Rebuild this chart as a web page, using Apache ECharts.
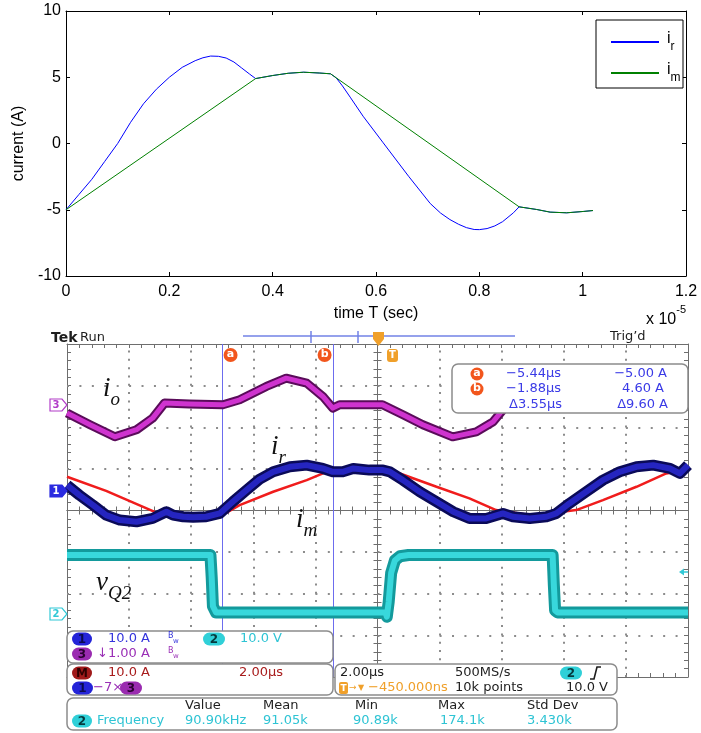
<!DOCTYPE html>
<html><head><meta charset="utf-8">
<script src="https://cdn.jsdelivr.net/npm/echarts@6/dist/echarts.min.js"></script>
<style>html,body{margin:0;padding:0;background:#fff}#c{width:701px;height:733px}</style>
</head><body><div id="c"></div>
<script>
// ---------- Top chart data (time in units of 1e-5 s, current in A) ----------
const irTime    = [0, 0.025, 0.05, 0.075, 0.1, 0.125, 0.15, 0.175, 0.2, 0.225, 0.25, 0.265, 0.28, 0.295, 0.31, 0.325, 0.34, 0.355, 0.367, 0.4, 0.43, 0.46, 0.49, 0.512, 0.523, 0.535, 0.55, 0.575, 0.614, 0.663, 0.705, 0.725, 0.743, 0.76, 0.775, 0.79, 0.80, 0.815, 0.83, 0.845, 0.866, 0.877, 0.911, 0.937, 0.969, 1.001, 1.02];
const irCurrent = [-5.0, -3.85, -2.7, -1.35, 0.0, 1.6, 3.0, 4.1, 5.0, 5.75, 6.25, 6.47, 6.6, 6.58, 6.45, 6.15, 5.7, 5.25, 4.9, 5.13, 5.3, 5.38, 5.32, 5.26, 4.95, 4.35, 3.5, 2.06, 0.05, -2.47, -4.53, -5.25, -5.74, -6.1, -6.35, -6.49, -6.5, -6.42, -6.22, -5.9, -5.23, -4.78, -4.98, -5.18, -5.23, -5.13, -5.06];
const imTime    = [0, 0.367, 0.4, 0.43, 0.46, 0.49, 0.512, 0.877, 0.911, 0.937, 0.969, 1.001, 1.02];
const imCurrent = [-5.0, 4.9, 5.13, 5.3, 5.38, 5.32, 5.26, -4.78, -4.98, -5.18, -5.23, -5.13, -5.06];

// ---------- Oscilloscope data (screen divisions: x -5..5, y -4..4) ----------
const ch1X = [-5.0,-4.80,-4.58,-4.37,-4.15,-3.88,-3.62,-3.40,-3.29,-3.13,-2.97,-2.76,-2.54,-2.33,-2.11,-1.90,-1.68,-1.41,-1.14,-0.88,-0.72,-0.56,-0.39,-0.13,0.09,0.20,0.41,0.68,0.95,1.22,1.48,1.75,2.02,2.18,2.45,2.72,2.88,3.09,3.36,3.63,3.90,4.17,4.44,4.71,4.87,5.0];
const ch1Y = [0.61,0.37,0.13,-0.11,-0.23,-0.27,-0.19,-0.03,-0.11,-0.15,-0.16,-0.15,-0.07,0.21,0.49,0.75,0.93,1.05,1.09,1.01,0.93,0.93,1.01,0.97,0.97,0.93,0.73,0.45,0.21,-0.03,-0.19,-0.19,-0.07,-0.15,-0.19,-0.15,-0.07,0.17,0.45,0.73,0.93,1.05,1.09,1.01,0.89,1.09];
const mathX = [-5.0,-4.37,-3.56,-3.0,-2.43,-2.22,-1.68,-1.14,-0.82,-0.5,0.0,0.36,0.95,1.48,1.91,2.5,3.2,3.63,4.17,4.65,5.0];
const mathY = [0.81,0.47,-0.05,-0.12,-0.05,0.13,0.45,0.73,0.93,0.95,0.98,0.89,0.57,0.29,0.01,-0.12,0.01,0.25,0.57,0.89,0.98];
const ch3X = [-5.0,-4.63,-4.23,-3.88,-3.62,-3.43,-3.03,-2.49,-2.22,-1.79,-1.47,-1.14,-0.88,-0.72,-0.61,-0.13,0.08,0.41,0.73,1.21,1.59,1.86,2.02,2.15,2.6,3.05,3.36,3.79,4.11,4.44,4.70,4.86,4.97,5.0];
const ch3Y = [2.34,2.06,1.77,1.94,2.22,2.58,2.56,2.54,2.66,2.98,3.18,3.06,2.74,2.46,2.54,2.54,2.54,2.30,2.06,1.77,1.89,2.13,2.42,2.58,2.55,2.54,2.66,2.98,3.18,3.06,2.74,2.46,2.54,2.54];
const ch2X = [-5.0,-2.69,-2.67,-2.65,-2.6,0.13,0.15,0.18,0.22,0.28,0.36,0.5,2.82,2.84,2.86,2.9,5.0];
const ch2Y = [-1.07,-1.07,-1.6,-2.3,-2.45,-2.45,-2.55,-2.2,-1.5,-1.2,-1.1,-1.07,-1.07,-1.8,-2.4,-2.45,-2.45];
const cursorTimesUs = [-5.44, -1.88];
const timePerDivUs = 2.0;
const screenCenterUs = -0.45;
const graticuleX = [-4, -3, -2, -1, 1, 2, 3, 4];
const graticuleY = [-3, -2, -1, 1, 2, 3];

const pairs = (xs, ys) => xs.map((x, i) => [x, ys[i]]);
const cursorDiv = cursorTimesUs.map(t => (t - screenCenterUs) / timePerDivUs);

const chart = echarts.init(document.getElementById('c'), null, {renderer: 'canvas'});
const SANS = 'Liberation Sans';
const UI = 'DejaVu Sans';
const frameC = '#6e6e6e', dotC = '#8c8c8c';

function scopeX(extra) {
  return Object.assign({
    gridIndex: 1, type: 'value', min: -5, max: 5, interval: 1,
    axisLabel: {show: false}, splitLine: {show: false},
    axisLine: {show: true, onZero: false, lineStyle: {color: frameC, width: 1}},
    axisTick: {show: true, inside: true, length: 4, lineStyle: {color: frameC}},
    minorTick: {show: true, splitNumber: 5, length: 4, lineStyle: {color: frameC}}
  }, extra);
}
function scopeY(extra) {
  return Object.assign({
    gridIndex: 1, type: 'value', min: -4, max: 4, interval: 1,
    axisLabel: {show: false}, splitLine: {show: false},
    axisLine: {show: true, onZero: false, lineStyle: {color: frameC, width: 1}},
    axisTick: {show: true, inside: true, length: 4, lineStyle: {color: frameC}},
    minorTick: {show: true, splitNumber: 5, length: 4, lineStyle: {color: frameC}}
  }, extra);
}
const topAxisLine = {onZero: false, lineStyle: {color: '#000', width: 1}};
const topTick = {inside: true, length: 4, lineStyle: {color: '#000'}};

const option = {
  animation: false,
  backgroundColor: '#fff',
  grid: [
    {left: 66, top: 11, width: 620, height: 265, outerBoundsMode: 'none', containLabel: false},
    {left: 67, top: 344, width: 621, height: 333, outerBoundsMode: 'none', containLabel: false}
  ],
  legend: {
    orient: 'vertical', left: 606, top: 26, itemWidth: 48, itemHeight: 2, itemGap: 9,
    icon: 'rect', selectedMode: false, data: ['ir', 'im'],
    formatter: n => n === 'ir' ? '{m|i}{s|r}' : '{m|i}{s|m}',
    textStyle: {rich: {
      m: {fontSize: 16, fontFamily: SANS, color: '#000', lineHeight: 22, verticalAlign: 'top', padding: [0, 0, 0, 3]},
      s: {fontSize: 12, fontFamily: SANS, color: '#000', lineHeight: 10, verticalAlign: 'bottom'}
    }}
  },
  xAxis: [
    {gridIndex: 0, type: 'value', min: 0, max: 1.2, interval: 0.2, position: 'bottom',
     axisLine: topAxisLine, axisTick: topTick, splitLine: {show: false},
     axisLabel: {color: '#000', fontSize: 16, fontFamily: SANS, margin: 8},
     name: 'time T (sec)', nameLocation: 'middle', nameGap: 30,
     nameTextStyle: {color: '#000', fontSize: 16, fontFamily: SANS}},
    {gridIndex: 0, type: 'value', min: 0, max: 1.2, interval: 0.2, position: 'top',
     axisLine: topAxisLine, axisTick: topTick, splitLine: {show: false}, axisLabel: {show: false}},
    scopeX({position: 'bottom'}),
    scopeX({position: 'top'}),
    scopeX({position: 'bottom', axisLine: {show: true, onZero: true, onZeroAxisIndex: 2, lineStyle: {color: frameC, width: 1}}}),
    scopeX({position: 'top', axisLine: {show: true, onZero: true, onZeroAxisIndex: 2, lineStyle: {color: frameC, width: 1}}})
  ],
  yAxis: [
    {gridIndex: 0, type: 'value', min: -10, max: 10, interval: 5, position: 'left',
     axisLine: topAxisLine, axisTick: topTick, splitLine: {show: false},
     axisLabel: {color: '#000', fontSize: 16, fontFamily: SANS, margin: 5},
     name: 'current (A)', nameLocation: 'middle', nameGap: 38, nameRotate: 90,
     nameTextStyle: {color: '#000', fontSize: 16, fontFamily: SANS}},
    {gridIndex: 0, type: 'value', min: -10, max: 10, interval: 5, position: 'right',
     axisLine: topAxisLine, axisTick: topTick, splitLine: {show: false}, axisLabel: {show: false}},
    scopeY({position: 'left'}),
    scopeY({position: 'right'}),
    scopeY({position: 'left', axisLine: {show: true, onZero: true, onZeroAxisIndex: 2, lineStyle: {color: frameC, width: 1}}}),
    scopeY({position: 'right', axisLine: {show: true, onZero: true, onZeroAxisIndex: 2, lineStyle: {color: frameC, width: 1}}})
  ],
  series: [
    {name: 'ir', type: 'line', xAxisIndex: 0, yAxisIndex: 0, data: pairs(irTime, irCurrent),
     symbol: 'none', lineStyle: {color: '#0000ff', width: 1}, itemStyle: {color: '#0000ff'}},
    {name: 'im', type: 'line', xAxisIndex: 0, yAxisIndex: 0, data: pairs(imTime, imCurrent),
     symbol: 'none', lineStyle: {color: '#008000', width: 1}, itemStyle: {color: '#008000'}},
    // graticule (dotted division lines)
    {name: 'graticule', type: 'line', xAxisIndex: 2, yAxisIndex: 2, data: [], symbol: 'none', z: 1, silent: true,
     markLine: {z: 1, silent: true, symbol: ['none', 'none'], label: {show: false}, animation: false,
       data: graticuleX.map(v => ({xAxis: v, lineStyle: {color: dotC, width: 2, type: [2, 6.32], opacity: 1}}))
         .concat(graticuleY.map(v => ({yAxis: v, lineStyle: {color: dotC, width: 2, type: [2, 10.42], opacity: 1}})))}},
    {name: 'math', type: 'line', xAxisIndex: 2, yAxisIndex: 2, data: pairs(mathX, mathY), symbol: 'none',
     lineStyle: {color: '#f01c1c', width: 2.5},
     markLine: {z: 1, silent: true, symbol: ['none', 'none'], label: {show: false},
       lineStyle: {color: '#6c6cee', width: 1, type: 'solid', opacity: 1},
       data: cursorDiv.map(v => ({xAxis: v}))}},
    {name: 'ch1o', type: 'line', xAxisIndex: 2, yAxisIndex: 2, data: pairs(ch1X, ch1Y), symbol: 'none',
     lineStyle: {color: '#0a0a58', width: 11, cap: 'butt', join: 'round'}},
    {name: 'ch1', type: 'line', xAxisIndex: 2, yAxisIndex: 2, data: pairs(ch1X, ch1Y), symbol: 'none',
     lineStyle: {color: '#2525c0', width: 6, cap: 'butt', join: 'round'}},
    {name: 'ch3o', type: 'line', xAxisIndex: 2, yAxisIndex: 2, data: pairs(ch3X, ch3Y), symbol: 'none',
     lineStyle: {color: '#5a0c5a', width: 9, cap: 'butt', join: 'round'}},
    {name: 'ch3', type: 'line', xAxisIndex: 2, yAxisIndex: 2, data: pairs(ch3X, ch3Y), symbol: 'none',
     lineStyle: {color: '#cf33cf', width: 5, cap: 'butt', join: 'round'}},
    {name: 'ch2o', type: 'line', xAxisIndex: 2, yAxisIndex: 2, data: pairs(ch2X, ch2Y), symbol: 'none',
     lineStyle: {color: '#139a9c', width: 12, cap: 'butt', join: 'round'}},
    {name: 'ch2', type: 'line', xAxisIndex: 2, yAxisIndex: 2, data: pairs(ch2X, ch2Y), symbol: 'none',
     lineStyle: {color: '#38d8dc', width: 6, cap: 'butt', join: 'round'}}
  ]
};
chart.setOption(option);

// ---------- overlay (scope UI text / readouts) ----------
const G = [];
function txt(x, y, s, color, o) {
  o = o || {};
  const size = o.size || 13;
  G.push({type: 'text', z: 110, x: x, y: y, style: {
    text: s, fill: color,
    font: (o.italic ? 'italic ' : '') + (o.weight || 'normal') + ' ' + size + 'px "' + (o.family || UI) + '"',
    align: o.align || 'left', textAlign: o.align || 'left',
    verticalAlign: 'middle', textVerticalAlign: 'middle'}});
}
function box(x, y, w, h) {
  G.push({type: 'rect', z: 100, shape: {x: x, y: y, width: w, height: h, r: 6},
    style: {fill: '#fff', stroke: '#8c8c8c', lineWidth: 1.5}});
}
function pill(x, y, w, label, fill, tc) {
  G.push({type: 'rect', z: 101, shape: {x: x, y: y - 6.5, width: w, height: 13, r: 6.5}, style: {fill: fill}});
  txt(x + w / 2, y + 0.5, label, tc, {align: 'center', weight: 'bold', size: 12});
}
function line(x1, y1, x2, y2, c, w) {
  G.push({type: 'line', z: 101, shape: {x1: x1, y1: y1, x2: x2, y2: y2}, style: {stroke: c, lineWidth: w || 1}});
}
function rich(x, y, text, richStyle) {
  G.push({type: 'text', z: 110, x: x, y: y, style: {text: text, rich: richStyle,
    verticalAlign: 'middle', textVerticalAlign: 'middle', align: 'left', textAlign: 'left'}});
}
const BLUE = '#3434dc', CYAN = '#2ec4d4', PURP = '#9a2fb6', DRED = '#a81c1c', ORNG = '#f0a02a', BLK = '#1e1e1e';

// top chart exponent
rich(646, 316, '{a|x 10}{b|-5}', {
  a: {fontSize: 16, fontFamily: SANS, fill: '#000', lineHeight: 24, verticalAlign: 'bottom'},
  b: {fontSize: 11, fontFamily: SANS, fill: '#000', lineHeight: 12, verticalAlign: 'top'}});
// legend box
G.push({type: 'rect', z: 1, shape: {x: 596, y: 20, width: 87, height: 68}, style: {fill: '#fff', stroke: '#000', lineWidth: 1}});

// scope header
txt(51, 338, 'Tek', BLK, {weight: 'bold', size: 14});
txt(80, 338, 'Run', BLK, {size: 13});
txt(610, 337, 'Trig’d', BLK, {size: 13});
line(243, 336, 515, 336, '#7282e6', 1.5);
line(311, 331, 311, 343, '#7282e6', 1.5);
line(358, 331, 358, 343, '#7282e6', 1.5);
G.push({type: 'polygon', z: 103, shape: {points: [[373, 332], [384, 332], [384, 339], [378.5, 346], [373, 339]]}, style: {fill: ORNG}});
G.push({type: 'rect', z: 103, shape: {x: 387, y: 349, width: 11, height: 13, r: 3}, style: {fill: ORNG}});
txt(392.5, 355.5, 'T', '#fff', {align: 'center', weight: 'bold', size: 10});

// cursor labels
const cpx = cursorDiv.map(v => chart.convertToPixel({xAxisIndex: 2}, v));
[[cpx[0] + 8, 'a'], [cpx[1] - 8.5, 'b']].forEach(function (c) {
  G.push({type: 'circle', z: 103, shape: {cx: c[0], cy: 355, r: 7}, style: {fill: '#f2561d'}});
  txt(c[0], 354.5, c[1], '#fff', {align: 'center', weight: 'bold', size: 11});
});

// channel markers on left edge
function marker(y, label, col, filled) {
  G.push({type: 'polygon', z: 103, shape: {points: [[50, y - 6], [62, y - 6], [67, y], [62, y + 6], [50, y + 6]]},
    style: {fill: filled ? col : '#fff', stroke: col, lineWidth: 1.2}});
  txt(56, y + 0.5, label, filled ? '#fff' : col, {align: 'center', weight: 'bold', size: 10});
}
marker(405, '3', '#b23cc8', false);
marker(491, '1', '#2a2ae0', true);
marker(614, '2', '#30c8d6', false);
// trigger level arrow on right
G.push({type: 'polygon', z: 103, shape: {points: [[679, 572], [684, 568.5], [684, 575.5]]}, style: {fill: '#30c8d6'}});
line(684, 572, 688, 572, '#30c8d6', 1.5);

// trace labels
function traceLabel(x, y, main, sub) {
  rich(x, y, '{m|' + main + '}{s|' + sub + '}', {
    m: {fontSize: 27, fontFamily: 'Liberation Serif', fontStyle: 'italic', fill: '#111', lineHeight: 34, verticalAlign: 'top'},
    s: {fontSize: 19, fontFamily: 'Liberation Serif', fontStyle: 'italic', fill: '#111', lineHeight: 16, verticalAlign: 'bottom'}});
}
traceLabel(103, 392, 'i', 'o');
traceLabel(271, 450, 'i', 'r');
traceLabel(296, 523, 'i', 'm');
traceLabel(96, 586, 'v', 'Q2');

// cursor readout
box(452, 364, 236, 49);
[[374, 'a'], [389, 'b']].forEach(function (r) {
  G.push({type: 'circle', z: 103, shape: {cx: 477, cy: r[0], r: 6.5}, style: {fill: '#f2561d'}});
  txt(477, r[0] - 0.5, r[1], '#fff', {align: 'center', weight: 'bold', size: 11});
});
const RB = '#3a3ae6';
txt(561, 374, '−5.44µs', RB, {align: 'right'});
txt(561, 389, '−1.88µs', RB, {align: 'right'});
txt(562, 405, 'Δ3.55µs', RB, {align: 'right'});
txt(667, 374, '−5.00 A', RB, {align: 'right'});
txt(664, 389, '4.60 A', RB, {align: 'right'});
txt(668, 405, 'Δ9.60 A', RB, {align: 'right'});

// channel setting box
box(67, 631, 266, 32);
pill(72, 639, 20, '1', '#2424d8', '#0a0a50');
txt(108, 639, '10.0 A', BLUE);
txt(168, 636, 'B', BLUE, {size: 8}); txt(173, 641, 'w', BLUE, {size: 7});
pill(203, 639, 22, '2', '#30d0d8', '#05393d');
txt(240, 639, '10.0 V', CYAN);
pill(72, 654, 20, '3', '#9a2bb0', '#2a0030');
txt(97, 654, '↓1.00 A', PURP);
txt(168, 651, 'B', PURP, {size: 8}); txt(173, 656, 'w', PURP, {size: 7});

// math box
box(67, 664, 266, 31);
pill(72, 673, 20, 'M', '#a01a1a', '#300000');
txt(108, 673, '10.0 A', DRED);
txt(239, 673, '2.00µs', DRED);
pill(72, 688, 21, '1', '#2424d8', '#0a0a50');
txt(93, 688, '−7×', PURP);
pill(120, 688, 22, '3', '#9a2bb0', '#2a0030');

// timebase box
box(335, 664, 282, 31);
txt(340, 673, '2.00µs', BLK);
txt(455, 673, '500MS/s', BLK);
pill(560, 673, 22, '2', '#30d0d8', '#05393d');
G.push({type: 'polyline', z: 103, shape: {points: [[590, 679], [594, 679], [597, 667], [601, 667]]}, style: {stroke: BLK, lineWidth: 1.6, fill: null}});
G.push({type: 'rect', z: 103, shape: {x: 339, y: 682, width: 9, height: 12, r: 2}, style: {fill: ORNG}});
txt(343.5, 688.5, 'T', '#fff', {align: 'center', weight: 'bold', size: 9});
txt(349, 688, '→', ORNG, {size: 9});
txt(358, 688, '▼', ORNG, {size: 8});
txt(368, 688, '−450.000ns', ORNG);
txt(455, 688, '10k points', BLK);
txt(608, 688, '10.0 V', BLK, {align: 'right'});

// measurement box
box(67, 698, 550, 32);
txt(185, 706, 'Value', BLK);
txt(263, 706, 'Mean', BLK);
txt(355, 706, 'Min', BLK);
txt(438, 706, 'Max', BLK);
txt(527, 706, 'Std Dev', BLK);
pill(72, 721, 20, '2', '#30d0d8', '#05393d');
txt(97, 721, 'Frequency', CYAN);
txt(185, 721, '90.90kHz', CYAN);
txt(263, 721, '91.05k', CYAN);
txt(353, 721, '90.89k', CYAN);
txt(440, 721, '174.1k', CYAN);
txt(527, 721, '3.430k', CYAN);

chart.setOption({graphic: {elements: G}});
</script></body></html>
